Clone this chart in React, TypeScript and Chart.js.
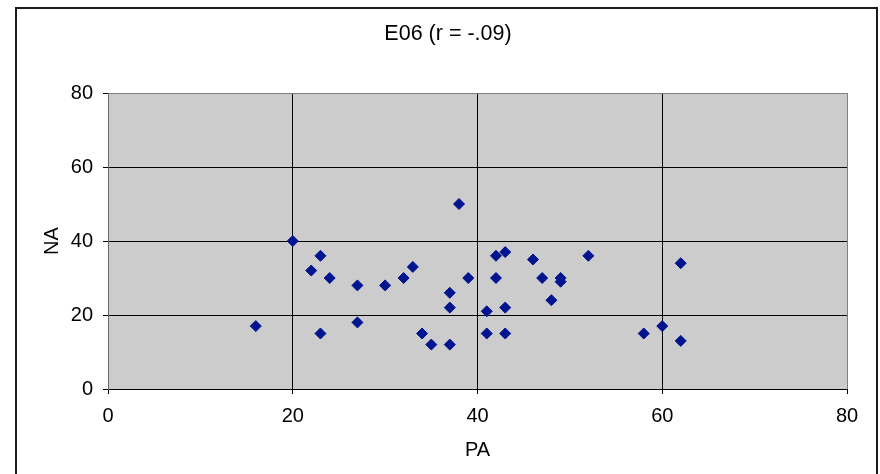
import React, { useEffect, useRef } from 'react';
import { Chart, registerables } from 'chart.js';

Chart.register(...registerables);

const chartTitle = 'E06 (r = -.09)';
const xAxisTitle = 'PA';
const yAxisTitle = 'NA';
const paValues = [16, 20, 22, 23, 24, 23, 27, 27, 30, 32, 33, 34, 35, 37, 37, 37, 38, 39, 41, 41, 42, 43, 42, 43, 43, 46, 47, 48, 49, 49, 52, 58, 60, 62, 62];
const naValues = [17, 40, 32, 36, 30, 15, 28, 18, 28, 30, 33, 15, 12, 26, 22, 12, 50, 30, 21, 15, 36, 37, 30, 22, 15, 35, 30, 24, 30, 29, 36, 15, 17, 34, 13];
const axisMin = 0;
const axisMax = 80;
const tickStep = 20;

const FONT_FAMILY = '"Liberation Sans", Arial, sans-serif';

export default function App() {
  const canvasRef = useRef<HTMLCanvasElement | null>(null);

  useEffect(() => {
    document.body.style.margin = '0';
    const canvas = canvasRef.current;
    if (!canvas) return;

    const framePlugin = {
      id: 'frame',
      beforeDraw(chart: any) {
        const { ctx, chartArea } = chart;
        ctx.save();
        ctx.fillStyle = '#ffffff';
        ctx.fillRect(0, 0, chart.width, chart.height);
        ctx.fillStyle = '#cccccc';
        ctx.fillRect(chartArea.left, chartArea.top, chartArea.right - chartArea.left, chartArea.bottom - chartArea.top);
        ctx.restore();
      },
      afterDraw(chart: any) {
        const { ctx } = chart;
        ctx.save();
        ctx.strokeStyle = '#1a1a1a';
        ctx.lineWidth = 2;
        ctx.strokeRect(16, 8, 861, 490);
        ctx.fillStyle = '#000000';
        ctx.font = `21.5px ${FONT_FAMILY}`;
        ctx.textAlign = 'center';
        ctx.textBaseline = 'middle';
        ctx.fillText(chartTitle, 448, 34);
        ctx.restore();
      },
    };

    const font = { family: FONT_FAMILY, size: 20 };

    const chart = new Chart(canvas, {
      type: 'scatter',
      data: {
        datasets: [
          {
            data: paValues.map((x, i) => ({ x, y: naValues[i] })),
            pointStyle: 'rectRot',
            pointRadius: 5.5,
            pointBorderWidth: 1,
            backgroundColor: '#001490',
            borderColor: '#001490',
          },
        ],
      },
      options: {
        responsive: false,
        animation: false,
        layout: { padding: { top: 93, right: 33, bottom: 0, left: 0 } },
        plugins: {
          legend: { display: false },
          tooltip: { enabled: false },
          title: { display: false },
        },
        scales: {
          x: {
            type: 'linear',
            min: axisMin,
            max: axisMax,
            ticks: { stepSize: tickStep, color: '#000', font, padding: 10, maxRotation: 0 },
            grid: {
              color: (ctx: any) => (ctx.tick && ctx.tick.value === axisMax ? '#808080' : '#000000'),
              tickLength: 5,
              tickColor: '#000',
              lineWidth: 1,
            },
            border: { color: '#000', width: 1 },
            title: { display: true, text: xAxisTitle, color: '#000', font, padding: { top: 0, bottom: 12 } },
            afterFit: (s: any) => {
              s.height = 85;
            },
          },
          y: {
            type: 'linear',
            min: axisMin,
            max: axisMax,
            ticks: { stepSize: tickStep, color: '#000', font, padding: 10 },
            grid: {
              color: (ctx: any) => (ctx.tick && ctx.tick.value === axisMax ? '#808080' : '#000000'),
              tickLength: 5,
              tickColor: '#000',
              lineWidth: 1,
            },
            border: { color: '#6a6a6a', width: 1 },
            title: { display: true, text: yAxisTitle, color: '#000', font, padding: { top: 40, bottom: 0 } },
            afterFit: (s: any) => {
              s.width = 108;
            },
          },
        },
      },
      plugins: [framePlugin],
    });

    return () => chart.destroy();
  }, []);

  return (
    <div style={{ width: 880, height: 474 }}>
      <canvas ref={canvasRef} width={880} height={474} />
    </div>
  );
}
